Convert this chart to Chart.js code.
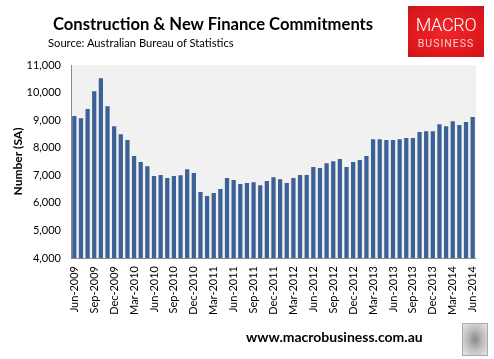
<!DOCTYPE html>
<html>
<head>
<meta charset="utf-8">
<script src="https://cdn.jsdelivr.net/npm/chart.js@4/dist/chart.umd.min.js"></script>
<style>
  html, body { margin:0; padding:0; background:#fff; }
  #wrap { position:relative; width:494px; height:359px; overflow:hidden; font-family: Lato, "Open Sans", sans-serif; }
  #c { position:absolute; left:0; top:0; }
  #title { position:absolute; left:53px; top:14px; font-weight:bold; font-size:16.6px; color:#000; white-space:nowrap; }
  #sub { position:absolute; left:48px; top:36px; font-size:11.2px; color:#000; white-space:nowrap; }
  #logo { position:absolute; left:408px; top:6px; width:76px; height:51px;
          background: radial-gradient(ellipse at center, #f0262a 0%, #e01a1e 60%, #cc161b 100%); text-align:center; }
  #logo .m { position:absolute; left:0; right:0; top:10px; color:#fff; font-family:Roboto, sans-serif; font-weight:300; font-size:18px; letter-spacing:-0.3px; line-height:18px; }
  #logo .b { position:absolute; left:0; right:0; top:32px; color:#f8cccc; font-family:Roboto, sans-serif; font-weight:400; font-size:10.5px; letter-spacing:1px; line-height:11px; }
  #foot { position:absolute; left:246px; top:328px; font-weight:bold; font-size:14px; color:#000; white-space:nowrap; }
  #wolf { position:absolute; left:462px; top:323px; width:24px; height:31px; border:1px solid #aaa;
          background: radial-gradient(ellipse at center, #888 0%, #bbb 45%, #e8e8e8 100%); }
</style>
</head>
<body>
<div id="wrap">
  <canvas id="c" width="494" height="359"></canvas>
  <div id="title">Construction &amp; New Finance Commitments</div>
  <div id="sub">Source: Australian Bureau of Statistics</div>
  <div id="logo"><div class="m">MACRO</div><div class="b">BUSINESS</div></div>
  <div id="foot">www.macrobusiness.com.au</div>
  <div id="wolf"></div>
</div>
<script>
const months = ["Jun-2009","Jul-2009","Aug-2009","Sep-2009","Oct-2009","Nov-2009","Dec-2009",
 "Jan-2010","Feb-2010","Mar-2010","Apr-2010","May-2010","Jun-2010","Jul-2010","Aug-2010","Sep-2010","Oct-2010","Nov-2010","Dec-2010",
 "Jan-2011","Feb-2011","Mar-2011","Apr-2011","May-2011","Jun-2011","Jul-2011","Aug-2011","Sep-2011","Oct-2011","Nov-2011","Dec-2011",
 "Jan-2012","Feb-2012","Mar-2012","Apr-2012","May-2012","Jun-2012","Jul-2012","Aug-2012","Sep-2012","Oct-2012","Nov-2012","Dec-2012",
 "Jan-2013","Feb-2013","Mar-2013","Apr-2013","May-2013","Jun-2013","Jul-2013","Aug-2013","Sep-2013","Oct-2013","Nov-2013","Dec-2013",
 "Jan-2014","Feb-2014","Mar-2014","Apr-2014","May-2014","Jun-2014"];
const commitments = [9150,9070,9400,10050,10520,9500,8780,
 8490,8280,7700,7480,7330,6970,7010,6900,6970,7000,7220,7080,
 6390,6250,6360,6500,6900,6830,6680,6720,6750,6640,6790,6930,
 6860,6720,6900,7010,7010,7300,7260,7440,7510,7590,7300,7480,
 7550,7700,8310,8310,8280,8280,8310,8350,8350,8570,8600,8600,
 8850,8780,8960,8820,8930,9110];
const yMin = 4000, yMax = 11000, yStep = 1000;

const bgPlugin = {
  id: 'plotBg',
  beforeDraw(chart) {
    const {ctx, chartArea:a} = chart;
    ctx.save();
    ctx.fillStyle = '#f1f1f1';
    ctx.fillRect(a.left, a.top, a.right - a.left, a.bottom - a.top);
    ctx.restore();
  }
};

new Chart(document.getElementById('c'), {
  type: 'bar',
  data: {
    labels: months,
    datasets: [{
      data: commitments,
      backgroundColor: '#3b6196',
      borderWidth: 0,
      barPercentage: 0.64,
      categoryPercentage: 1.0
    }]
  },
  plugins: [bgPlugin],
  options: {
    responsive: false,
    animation: false,
    devicePixelRatio: 1,
    layout: { padding: { top: 65, right: 17, left: 0, bottom: 0 } },
    plugins: { legend: { display: false }, tooltip: { enabled: false } },
    scales: {
      x: {
        grid: { display: false, drawTicks: false },
        border: { display: true, color: '#888', width: 1 },
        ticks: {
          autoSkip: false, minRotation: 90, maxRotation: 90, padding: 8,
          color: '#000', font: { family: 'Lato, "Open Sans", sans-serif', size: 11 },
          callback: function(v, i) { return i % 3 === 0 ? months[i] : null; }
        },
        afterFit(s) { s.height = 101; }
      },
      y: {
        min: yMin, max: yMax,
        grid: { display: false, drawTicks: false },
        border: { display: true, color: '#888', width: 1 },
        ticks: {
          stepSize: yStep, padding: 10, color: '#000',
          font: { family: 'Lato, "Open Sans", sans-serif', size: 11 },
          callback: v => v.toLocaleString('en-US')
        },
        title: { display: true, text: 'Number (SA)', color: '#000', padding: { top: 11, bottom: 0 },
          font: { family: 'Lato, "Open Sans", sans-serif', size: 12, weight: 'bold' } },
        afterFit(s) { s.width = 71; }
      }
    }
  }
});
</script>
</body>
</html>
